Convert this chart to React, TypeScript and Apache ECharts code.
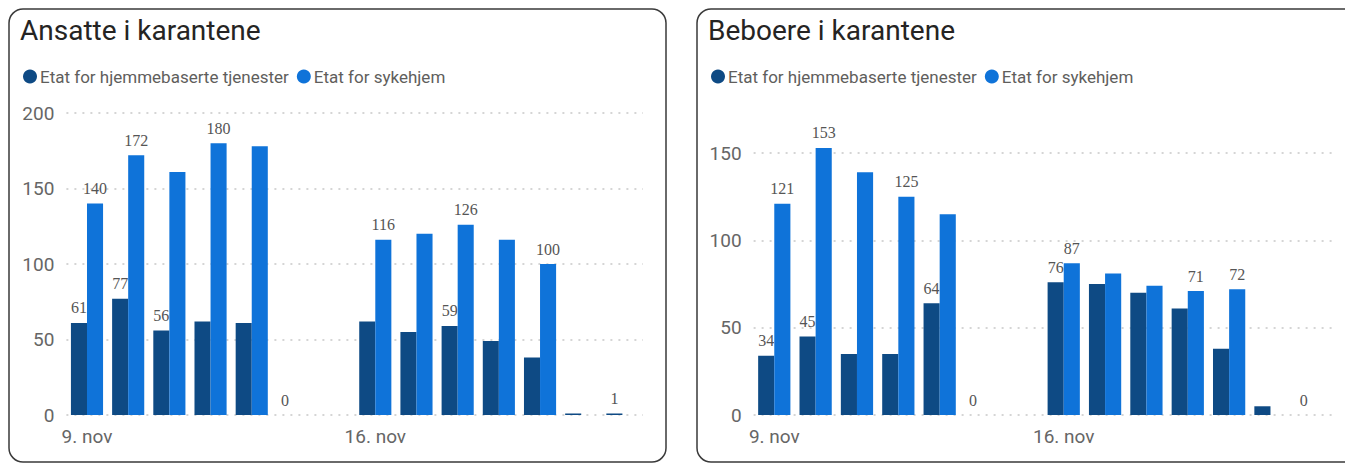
import React, { useEffect, useRef } from 'react';
import * as echarts from 'echarts';

const dates = ['9. nov', '10. nov', '11. nov', '12. nov', '13. nov', '14. nov', '15. nov', '16. nov', '17. nov', '18. nov', '19. nov', '20. nov', '21. nov', '22. nov'];
const shownDates = ['9. nov', '16. nov'];
const seriesNames = ['Etat for hjemmebaserte tjenester', 'Etat for sykehjem'];
const titles = ['Ansatte i karantene', 'Beboere i karantene'];

const ansatteHjemme: (number | null)[] = [61, 77, 56, 62, 61, 0, null, 62, 55, 59, 49, 38, 1, 1];
const ansatteSykehjem: (number | null)[] = [140, 172, 161, 180, 178, null, null, 116, 120, 126, 116, 100, null, null];
const ansatteHjemmeLabels = [0, 1, 2, 5, 9, 13];
const ansatteSykehjemLabels = [0, 1, 3, 7, 9, 11];

const beboereHjemme: (number | null)[] = [34, 45, 35, 35, 64, 0, null, 76, 75, 70, 61, 38, 5, 0];
const beboereSykehjem: (number | null)[] = [121, 153, 139, 125, 115, null, null, 87, 81, 74, 71, 72, null, null];
const beboereHjemmeLabels = [0, 1, 4, 5, 7, 13];
const beboereSykehjemLabels = [0, 1, 3, 7, 10, 11];

const yTicksLeft = { min: 0, max: 200, interval: 50 };
const yTicksRight = { min: 0, max: 173, interval: 50 };

const DARK = '#0E4A84';
const LIGHT = '#0F73D9';
const AXIS_FONT = 'Roboto';

function makeData(values: (number | null)[], labelIdx: number[]) {
  return values.map((v, i) =>
    v === null ? '-' : { value: v, label: { show: labelIdx.includes(i) } }
  );
}

export default function App() {
  const ref = useRef<HTMLDivElement>(null);
  useEffect(() => {
    if (!ref.current) return;
    const chart = echarts.init(ref.current, undefined, { renderer: 'svg' });

    const dotted = { color: '#c8c8c8', width: 1.5, type: [2, 6] as any };

    const xAxisBase = {
      type: 'category' as const,
      data: dates,
      boundaryGap: true,
      axisLine: { show: false },
      axisTick: { show: false },
      axisLabel: {
        interval: (i: number, v: string) => shownDates.includes(v),
        fontFamily: AXIS_FONT,
        fontSize: 19,
        color: '#666',
        margin: 12,
      },
    };
    const yAxisBase = {
      type: 'value' as const,
      axisLine: { show: false },
      axisTick: { show: false },
      axisLabel: { fontFamily: AXIS_FONT, fontSize: 19, color: '#666', margin: 12 },
    };

    const labelStyle = {
      position: 'top' as const,
      distance: 7,
      fontFamily: 'Liberation Serif',
      fontSize: 16,
      color: '#555',
    };

    const barBase = {
      type: 'bar' as const,
      barGap: '0%',
      barCategoryGap: '22%',
      label: labelStyle,
    };

    const legendBase = {
      icon: 'circle',
      itemWidth: 14,
      itemHeight: 14,
      itemGap: 8,
      padding: 0,
      top: 68,
      data: seriesNames,
      textStyle: { fontFamily: 'Roboto', fontSize: 17, color: '#605E5C', padding: [0, 0, 0, -2] },
    };

    const titleStyle = { fontFamily: 'Roboto', fontSize: 28, fontWeight: 'normal' as const, color: '#252423' };

    chart.setOption({
      animation: false,
      backgroundColor: '#ffffff',
      color: [DARK, LIGHT],
      title: [
        { text: titles[0], left: 20, top: 16, padding: 0, textStyle: titleStyle },
        { text: titles[1], left: 708, top: 16, padding: 0, textStyle: titleStyle },
      ],
      legend: [
        { ...legendBase, left: 23 },
        { ...legendBase, left: 711 },
      ],
      graphic: [
        {
          type: 'rect',
          shape: { x: 9, y: 9, width: 657, height: 453, r: 14 },
          style: { fill: 'none', stroke: '#3a3a3a', lineWidth: 1.5 },
          z: -10,
        },
        {
          type: 'rect',
          shape: { x: 697, y: 9, width: 700, height: 453, r: 14 },
          style: { fill: 'none', stroke: '#3a3a3a', lineWidth: 1.5 },
          z: -10,
        },
      ],
      grid: [
        { left: 66.4, width: 576.6, top: 113, bottom: 48, containLabel: false },
        { left: 753.6, width: 578.9, top: 113, bottom: 48, containLabel: false },
      ],
      xAxis: [
        { ...xAxisBase, gridIndex: 0 },
        { ...xAxisBase, gridIndex: 1 },
      ],
      yAxis: [
        { ...yAxisBase, gridIndex: 0, ...yTicksLeft, splitLine: { show: true, lineStyle: dotted } },
        {
          ...yAxisBase,
          gridIndex: 1,
          ...yTicksRight,
          axisLabel: { ...yAxisBase.axisLabel, showMaxLabel: false },
          splitLine: {
            show: true,
            showMaxLine: false,
            lineStyle: { ...dotted, color: ['#c8c8c8', '#c8c8c8', '#c8c8c8', '#c8c8c8', 'rgba(0,0,0,0)'] },
          },
        },
      ],
      series: [
        { ...barBase, name: seriesNames[0], xAxisIndex: 0, yAxisIndex: 0, data: makeData(ansatteHjemme, ansatteHjemmeLabels), itemStyle: { color: DARK } },
        { ...barBase, name: seriesNames[1], xAxisIndex: 0, yAxisIndex: 0, data: makeData(ansatteSykehjem, ansatteSykehjemLabels), itemStyle: { color: LIGHT } },
        { ...barBase, name: seriesNames[0], xAxisIndex: 1, yAxisIndex: 1, data: makeData(beboereHjemme, beboereHjemmeLabels), itemStyle: { color: DARK } },
        { ...barBase, name: seriesNames[1], xAxisIndex: 1, yAxisIndex: 1, data: makeData(beboereSykehjem, beboereSykehjemLabels), itemStyle: { color: LIGHT } },
      ],
    });
    return () => chart.dispose();
  }, []);

  return (
    <div
      ref={ref}
      style={{ position: 'absolute', left: 0, top: 0, width: 1345, height: 463, background: '#fff' }}
    />
  );
}
